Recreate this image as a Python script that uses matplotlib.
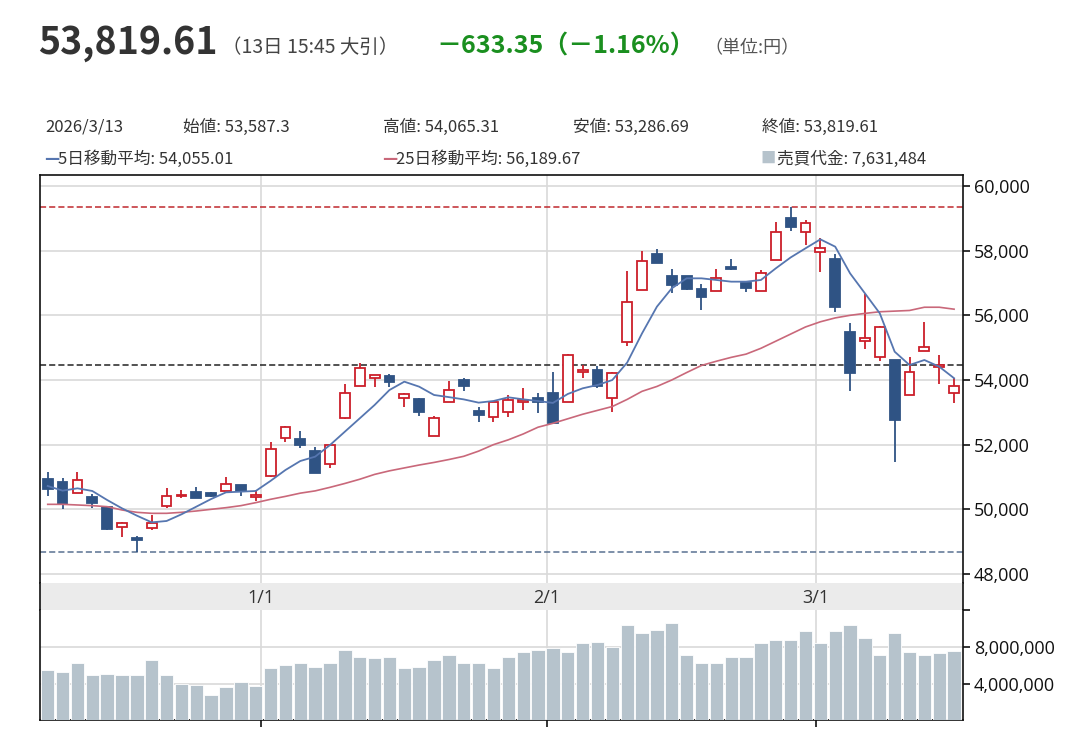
import numpy as np
import matplotlib
matplotlib.use('Agg')
import matplotlib.pyplot as plt
from matplotlib.ticker import FuncFormatter

plt.rcParams['font.family'] = ['Noto Sans CJK JP', 'DejaVu Sans']

# daily OHLC (Dec 10 2025 .. Mar 13 2026)
opens = [50938, 50855, 50515, 50391, 50082, 49453, 49103, 49412, 50113, 50402,
         50546, 50494, 50577, 50740, 50391, 51041, 52216, 52175, 51814, 51391,
         52814, 53824, 54051, 54113, 53433, 53412, 52268, 53330, 54000, 53051,
         52866, 53020, 53330, 53433, 53587, 53330, 54258, 54309, 53433, 55165,
         56783, 57886, 57216, 57216, 56824, 56752, 57485, 57010, 56752, 57711,
         59000, 58587, 57969, 57742, 55495, 55216, 54721, 54618, 53536, 54907,
         54412, 53587.3]
highs = [51165, 50958, 51165, 50474, 50100, 49618, 49185, 49824, 50649, 50597,
         50700, 50525, 50989, 50752, 50597, 52072, 52587, 52422, 51917, 52010,
         53866, 54515, 54155, 54185, 53587, 53453, 52886, 53969, 54072, 53175,
         53330, 53536, 53742, 53587, 54258, 54804, 54464, 54433, 54237, 57381,
         58000, 58041, 57433, 57216, 56969, 57433, 57732, 57010, 57402, 58897,
         59361, 58948, 58381, 57886, 55752, 56649, 55680, 54618, 54721, 55804,
         54773, 54065.31]
lows = [50422, 50010, 50500, 50051, 49370, 49133, 48690, 49350, 50030, 50360,
        50350, 50370, 50570, 50412, 50268, 51000, 52092, 51886, 51130, 51268,
        52800, 53820, 53773, 53773, 53175, 52897, 52260, 53320, 53670, 52711,
        52711, 52866, 53072, 52969, 52650, 53320, 54051, 53742, 53020, 55052,
        56780, 57608, 56680, 56790, 56165, 56740, 57410, 56732, 56740, 57700,
        58618, 58175, 57350, 56113, 53670, 54948, 54598, 51473, 53530, 54900,
        53876, 53286.69]
closes = [50618, 50164, 50907, 50206, 49391, 49566, 49041, 49587, 50422, 50453,
          50360, 50412, 50783, 50567, 50443, 51866, 52560, 51989, 51134, 51989,
          53587, 54361, 54140, 53928, 53570, 53020, 52835, 53700, 53825, 52917,
          53320, 53381, 53381, 53330, 52660, 54773, 54309, 53814, 54230, 56402,
          57680, 57629, 56938, 56804, 56577, 57165, 57422, 56855, 57319, 58588,
          58721, 58845, 58072, 56268, 54226, 55288, 55649, 52762, 54257, 55030,
          54452.96, 53819.61]

ma5 = [50721, 50577, 50649, 50567, 50288, 50030, 49804, 49597, 49639, 49845,
       50082, 50319, 50525, 50546, 50567, 50880, 51216, 51494, 51629, 51989,
       52402, 52814, 53227, 53690, 53948, 53793, 53536, 53470, 53400, 53299,
       53350, 53464, 53402, 53350, 53290, 53567, 53742, 53845, 54000, 54540,
       55443, 56268, 56835, 57144, 57144, 57093, 57041, 57041, 57093, 57453,
       57790, 58072, 58350, 58123, 57298, 56680, 56061, 54876, 54463, 54618,
       54412, 54055.01]
ma25 = [50154, 50154, 50134, 50113, 50082, 49979, 49907, 49876, 49876, 49907,
        49948, 50000, 50051, 50113, 50206, 50310, 50400, 50500, 50570, 50680,
        50800, 50930, 51080, 51190, 51280, 51370, 51450, 51540, 51640, 51800,
        52000, 52150, 52330, 52540, 52660, 52800, 52940, 53060, 53180, 53400,
        53650, 53800, 54000, 54230, 54450, 54580, 54700, 54800, 54980, 55200,
        55420, 55640, 55800, 55920, 56000, 56060, 56110, 56130, 56150, 56250,
        56250, 56189.67]

# 売買代金, millions
volume = [5.48, 5.30, 6.22, 4.93, 5.11, 4.93, 4.93, 6.59, 4.93, 4.00,
          3.81, 2.70, 3.63, 4.19, 3.70, 5.67, 6.04, 6.22, 5.85, 6.22,
          7.70, 6.96, 6.78, 6.96, 5.67, 5.85, 6.59, 7.15, 6.22, 6.22,
          5.67, 6.96, 7.52, 7.70, 7.89, 7.52, 8.44, 8.63, 8.07, 10.48,
          9.56, 9.93, 10.67, 7.15, 6.22, 6.22, 6.96, 6.96, 8.44, 8.81,
          8.81, 9.74, 8.44, 9.74, 10.48, 9.00, 7.15, 9.56, 7.52, 7.15,
          7.33, 7.631484]

prev_close = 54452.96
month_labels = ['1/1', '2/1', '3/1']
month_pos = [14.35, 33.6, 51.7]

UP = '#cc1f2a'
DOWN = '#2f5384'
GRID = '#d9d9d9'
TXT = '#333333'

W, H = 1092, 743
fig = plt.figure(figsize=(W / 100, H / 100), dpi=100)


def box(x0, y0, x1, y1):
    return [x0 / W, 1 - y1 / H, (x1 - x0) / W, (y1 - y0) / H]


def ftext(x, y, s, **kw):
    fig.text(x / W, 1 - y / H, s, va='baseline', **kw)


ax = fig.add_axes(box(40, 175, 963, 583))
band = fig.add_axes(box(40, 583, 963, 610))
axv = fig.add_axes(box(40, 610, 963, 720))

n = len(closes)
idx = np.arange(n)
o = np.array(opens)
c = np.array(closes)
up = c >= o

# price panel
ax.vlines(idx, lows, highs, colors=np.where(up, UP, DOWN), lw=1.3, zorder=3)
body_lo = np.minimum(o, c)
body_h = np.maximum(np.abs(c - o), 28)
ax.bar(idx, body_h, bottom=body_lo, width=0.66,
       color=np.where(up, 'white', DOWN), edgecolor=np.where(up, UP, DOWN),
       lw=1.3, zorder=4)
ax.plot(idx, ma25, color='#c9687a', lw=1.2, zorder=5)
ax.plot(idx, ma5, color='#5676b0', lw=1.3, zorder=5)

ax.axhline(max(highs), color='#c0282d', lw=1.1, ls=(0, (4, 2)), zorder=2)
ax.axhline(prev_close, color='#222222', lw=1.1, ls=(0, (4, 2)), zorder=2)
ax.axhline(min(lows), color='#5a7292', lw=1.1, ls=(0, (4, 2)), zorder=2)

xlim = (-0.52, n - 1 + 0.6)
for a in (ax, band, axv):
    a.set_xlim(*xlim)
    a.set_xticks(month_pos)
    a.tick_params(axis='x', length=0, labelbottom=False)
    for s in a.spines.values():
        s.set_linewidth(1.2)
        s.set_color('#111111')

ax.set_ylim(47721, 60340)
ax.set_yticks(np.arange(48000, 60001, 2000))
ax.yaxis.set_major_formatter(FuncFormatter(lambda v, p: f'{v:,.0f}'))
ax.grid(True, color=GRID, lw=1.2, zorder=0)
ax.spines['bottom'].set_visible(False)

# date band
band.axvspan(*xlim, color='#ebebeb', lw=0)
band.set_ylim(0, 1)
band.set_yticks([])
band.spines['top'].set_visible(False)
band.spines['bottom'].set_visible(False)
for p, lab in zip(month_pos, month_labels):
    band.text(p, 0.45, lab, ha='center', va='center', fontsize=13,
              color=TXT, family=['Open Sans', 'DejaVu Sans'])

# volume panel
axv.bar(idx, np.array(volume) * 1e6, width=0.9, color='#b6c3cc',
        edgecolor='white', lw=0.6, zorder=3)
axv.set_ylim(0, 12.1e6)
axv.set_yticks([4e6, 8e6])
axv.set_yticks([12.1e6], minor=True)
axv.yaxis.set_major_formatter(FuncFormatter(lambda v, p: f'{v:,.0f}'))
axv.grid(True, color=GRID, lw=1.2, zorder=0)
axv.spines['top'].set_visible(False)
axv.tick_params(axis='x', direction='out', length=5, width=1.2, color='#111111')

for a in (ax, axv):
    a.yaxis.tick_right()
    a.tick_params(axis='y', which='both', direction='out', length=5, width=1.2,
                  color='#111111', labelsize=13, labelcolor='#111111', pad=3)
    for t in a.get_yticklabels():
        t.set_family(['Open Sans', 'DejaVu Sans'])
    a.spines['left'].set_visible(True)
    a.spines['right'].set_visible(True)
    a.set_axisbelow(True)

# header
ftext(38, 54, '53,819.61', fontsize=27, color='#333333', weight='bold')
ftext(222, 53, '（13日 15:45 大引）', fontsize=14, color='#444444')
ftext(436, 53, '－633.35（－1.16%）', fontsize=18, color='#1a8f1f', weight='bold')
ftext(704, 53, '（単位:円）', fontsize=13, color='#555555')

ftext(45, 132, '2026/3/13', fontsize=12, color=TXT)
ftext(183, 132, '始値: 53,587.3', fontsize=12, color=TXT)
ftext(383, 132, '高値: 54,065.31', fontsize=12, color=TXT)
ftext(573, 132, '安値: 53,286.69', fontsize=12, color=TXT)
ftext(762, 132, '終値: 53,819.61', fontsize=12, color=TXT)

ftext(44, 164, '—', fontsize=12, color='#5676b0', weight='bold')
ftext(58, 164, '5日移動平均: 54,055.01', fontsize=12, color=TXT)
ftext(382, 164, '—', fontsize=12, color='#c9687a', weight='bold')
ftext(396, 164, '25日移動平均: 56,189.67', fontsize=12, color=TXT)
ftext(760, 163, '■', fontsize=11, color='#b6c3cc')
ftext(777, 164, '売買代金: 7,631,484', fontsize=12, color=TXT)

fig.savefig('out.png', dpi=100, facecolor='white')
